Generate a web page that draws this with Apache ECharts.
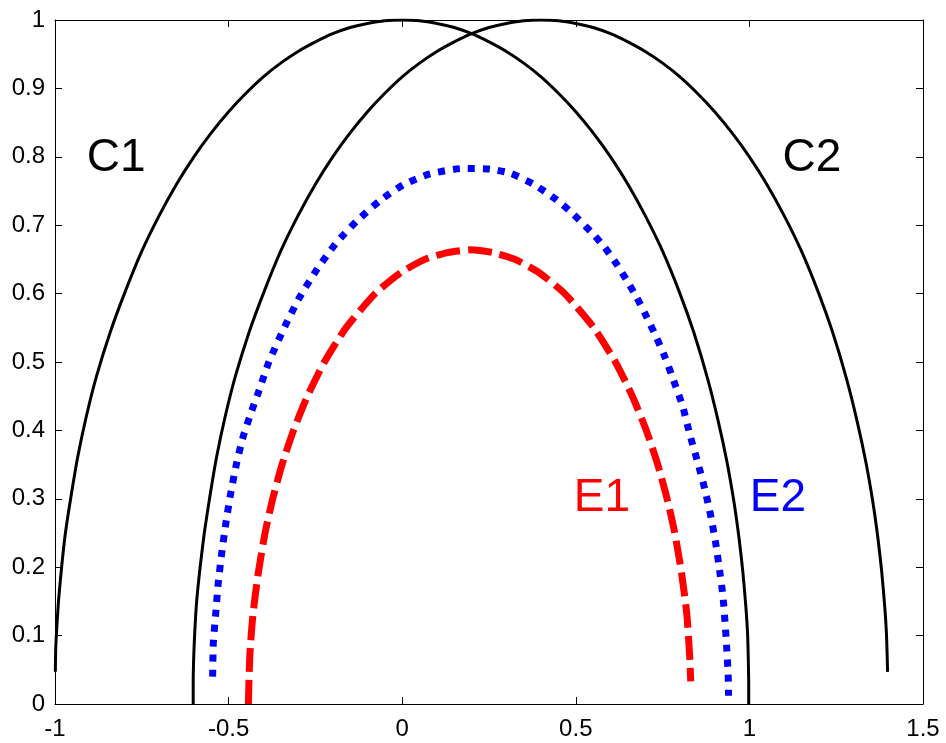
<!DOCTYPE html>
<html>
<head>
<meta charset="utf-8">
<script src="https://cdn.jsdelivr.net/npm/echarts@6/dist/echarts.min.js"></script>
<style>
  html, body { margin: 0; padding: 0; background: #fff; }
  #chart { width: 946px; height: 743px; }
</style>
</head>
<body>
<div id="chart"></div>
<script>
// curves, [x, y]
const c1 = [
  [-0.999, 0.047], [-0.998, 0.08], [-0.995, 0.11], [-0.99, 0.15], [-0.981, 0.2], [-0.97, 0.25],
  [-0.955, 0.3], [-0.935, 0.36], [-0.91, 0.42], [-0.88, 0.48], [-0.84, 0.545], [-0.8, 0.6],
  [-0.75, 0.662], [-0.7, 0.714], [-0.65, 0.76], [-0.6, 0.8], [-0.55, 0.835], [-0.5, 0.866],
  [-0.45, 0.893], [-0.4, 0.917], [-0.35, 0.937], [-0.3, 0.954], [-0.25, 0.968], [-0.2, 0.98],
  [-0.15, 0.989], [-0.1, 0.995], [-0.05, 0.999], [0, 1], [0.05, 0.999], [0.1, 0.995],
  [0.15, 0.989], [0.2, 0.98], [0.25, 0.968], [0.3, 0.954], [0.35, 0.937], [0.4, 0.917],
  [0.45, 0.893], [0.5, 0.866], [0.55, 0.835], [0.6, 0.8], [0.65, 0.76], [0.7, 0.714],
  [0.75, 0.662], [0.8, 0.6], [0.84, 0.543], [0.88, 0.475], [0.91, 0.414], [0.935, 0.355],
  [0.955, 0.297], [0.97, 0.243], [0.981, 0.194], [0.99, 0.141], [0.995, 0.1], [0.997, 0.06],
  [0.998, 0.03], [0.998, 0]
]
const c2 = [
  [-0.602, 0], [-0.602, 0.03], [-0.601, 0.06], [-0.598, 0.1], [-0.592, 0.15], [-0.582, 0.2],
  [-0.57, 0.25], [-0.555, 0.3], [-0.535, 0.36], [-0.51, 0.42], [-0.48, 0.48], [-0.44, 0.545],
  [-0.4, 0.6], [-0.35, 0.662], [-0.3, 0.714], [-0.25, 0.76], [-0.2, 0.8], [-0.15, 0.835],
  [-0.1, 0.866], [-0.05, 0.893], [0, 0.917], [0.05, 0.937], [0.1, 0.954], [0.15, 0.968],
  [0.2, 0.98], [0.25, 0.989], [0.3, 0.995], [0.35, 0.999], [0.4, 1], [0.45, 0.999],
  [0.5, 0.995], [0.55, 0.989], [0.6, 0.98], [0.65, 0.968], [0.7, 0.954], [0.75, 0.937],
  [0.8, 0.917], [0.85, 0.893], [0.9, 0.866], [0.95, 0.835], [1.0, 0.8], [1.05, 0.76],
  [1.1, 0.714], [1.15, 0.662], [1.2, 0.6], [1.24, 0.543], [1.28, 0.475], [1.31, 0.414],
  [1.335, 0.355], [1.355, 0.297], [1.37, 0.243], [1.381, 0.194], [1.39, 0.141], [1.395, 0.1],
  [1.398, 0.047]
]
const e2 = [
  [-0.546, 0.04], [-0.544, 0.089], [-0.537, 0.133], [-0.53, 0.176], [-0.52, 0.22], [-0.508, 0.264],
  [-0.494, 0.308], [-0.477, 0.352], [-0.458, 0.391], [-0.438, 0.422], [-0.414, 0.456], [-0.384, 0.5],
  [-0.338, 0.552], [-0.295, 0.595], [-0.246, 0.635], [-0.19, 0.674], [-0.131, 0.706], [-0.064, 0.736],
  [0.003, 0.759], [0.08, 0.775], [0.176, 0.783], [0.253, 0.782], [0.311, 0.776], [0.378, 0.76],
  [0.445, 0.737], [0.493, 0.716], [0.55, 0.687], [0.584, 0.667], [0.615, 0.645], [0.646, 0.62],
  [0.675, 0.595], [0.704, 0.566], [0.733, 0.535], [0.757, 0.507], [0.781, 0.474], [0.808, 0.435],
  [0.83, 0.391], [0.852, 0.352], [0.872, 0.313], [0.889, 0.274], [0.903, 0.235], [0.914, 0.196],
  [0.924, 0.157], [0.93, 0.118], [0.935, 0.079], [0.939, 0.04], [0.94, 0.012]
]
const e1 = [
  [-0.443, 0], [-0.439, 0.07], [-0.43, 0.13], [-0.415, 0.19], [-0.395, 0.25], [-0.373, 0.3],
  [-0.346, 0.35], [-0.313, 0.4], [-0.273, 0.45], [-0.224, 0.5], [-0.162, 0.55], [-0.078, 0.6],
  [-0.006, 0.63], [0.065, 0.65], [0.13, 0.66], [0.195, 0.664], [0.26, 0.66], [0.325, 0.65],
  [0.396, 0.63], [0.468, 0.6], [0.552, 0.55], [0.614, 0.5], [0.663, 0.45], [0.703, 0.4],
  [0.736, 0.35], [0.763, 0.3], [0.785, 0.25], [0.805, 0.19], [0.82, 0.13], [0.828, 0.07],
  [0.831, 0.033]
]

const curveNames = ['C1', 'C2', 'E1', 'E2']
// where each name is written, in data units
const nameSpots = [[-0.824, 0.798], [1.18, 0.798], [0.575, 0.3], [1.082, 0.3]]

const xMin = -1
const xMax = 1.5
const yMin = 0
const yMax = 1

const font = 'Liberation Sans, Arial, sans-serif'
const chart = echarts.init(document.getElementById('chart'), null, { renderer: 'canvas' })

function nameMark(i, color) {
  return {
    symbol: 'circle',
    symbolSize: 0,
    silent: true,
    label: {
      show: true,
      position: 'inside',
      formatter: curveNames[i],
      fontFamily: font,
      fontSize: 46,
      color: color
    },
    data: [{ coord: nameSpots[i] }]
  }
}

function curve(name, data, color, width, type, mark) {
  return {
    name: name,
    type: 'line',
    data: data,
    showSymbol: false,
    silent: true,
    animation: false,
    smooth: 0.2,
    lineStyle: { color: color, width: width, type: type, cap: 'butt', join: 'round' },
    markPoint: mark
  }
}

const frameAxis = {
  axisLine: { show: true, onZero: false, lineStyle: { color: '#000', width: 1 } },
  axisTick: { show: true, inside: true, length: 7, lineStyle: { color: '#000' } },
  splitLine: { show: false }
}

chart.setOption({
  backgroundColor: '#fff',
  animation: false,
  grid: { left: 55, right: 23, top: 20, bottom: 39 },
  xAxis: [
    {
      type: 'value', min: xMin, max: xMax, interval: 0.5, position: 'bottom',
      ...frameAxis,
      axisLabel: { margin: 13, fontFamily: font, fontSize: 24, color: '#000' }
    },
    {
      type: 'value', min: xMin, max: xMax, interval: 0.5, position: 'top',
      ...frameAxis,
      axisLabel: { show: false }
    }
  ],
  yAxis: [
    {
      type: 'value', min: yMin, max: yMax, interval: 0.1, position: 'left',
      ...frameAxis,
      axisLabel: { margin: 10, fontFamily: font, fontSize: 24, color: '#000' }
    },
    {
      type: 'value', min: yMin, max: yMax, interval: 0.1, position: 'right',
      ...frameAxis,
      axisLabel: { show: false }
    }
  ],
  series: [
    curve('C1', c1, '#000', 3, 'solid', nameMark(0, '#000')),
    curve('C2', c2, '#000', 3, 'solid', nameMark(1, '#000')),
    curve('E2', e2, '#0000ff', 7, [7, 8], nameMark(3, '#0000ff')),
    curve('E1', e1, '#ff0000', 7, [24, 8], nameMark(2, '#ff0000'))
  ]
})
</script>
</body>
</html>
